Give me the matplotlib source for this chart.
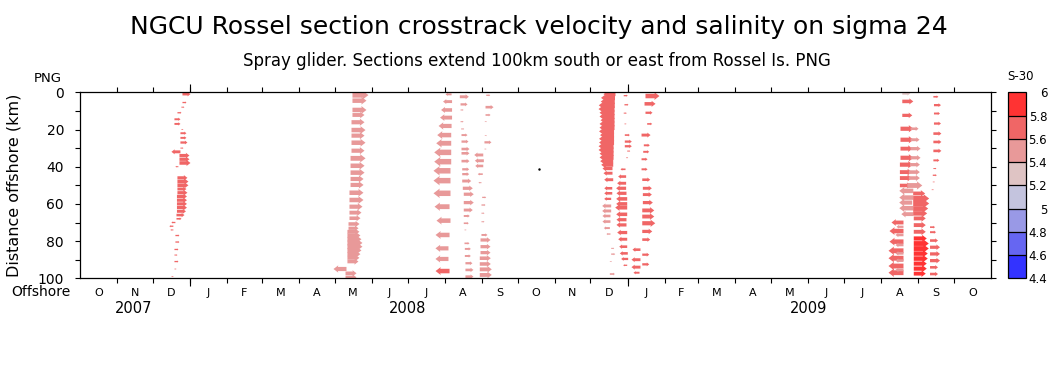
import numpy as np
import matplotlib
matplotlib.use('Agg')
import matplotlib.pyplot as plt
import matplotlib.dates as mdates
from matplotlib.colors import ListedColormap, BoundaryNorm
from matplotlib.cm import ScalarMappable

# =============================================================================
# Glider sections: distance offshore (km), days from section date,
# crosstrack velocity u (cm/s, + = to the right) and salinity S-30
# =============================================================================
dec07_date = '2007-12-24'
dec07_km = [1, 5.5, 8, 11, 14.5, 17, 20, 22, 24.5, 27, 30, 32, 34, 36, 38, 40, 46, 48, 50,
            52, 54, 56, 58, 60, 62, 64, 66, 68, 70, 72, 74, 77, 80.5, 84.5, 87.5, 91, 95, 99]
dec07_day = [1.7, 1.7, 0.8, -2.5, -5.0, -5.0, 0.8, 0, 0, 0, 0, 0, -0.8, -0.8, -0.8, -1.7,
             -2.5, -2.5, -2.5, -2.5, -2.5, -2.9, -2.9, -2.9, -2.9, -2.9, -3.3, -3.3, -4.2,
             -5.9, -5.9, -4.2, -4.2, -5.0, -5.0, -5.0, -5.0, -5.9]
dec07_u = [16, 8, 6, 8, 12, 12, 4, 12, 12, 14, 6, -18, 20, 20, 22, -6, 20, 22, 22, 18, 20,
           20, 20, 20, 20, 18, 16, 10, -8, -8, -6, 8, 8, 8, 6, 8, 4, -4]
dec07_s = [5.7] * 38

may08_date = '2008-05-14'
may08_km = [1.5, 4.5, 9.5, 12.2, 16.1, 20.3, 23.3, 27.1, 31.4, 35.5, 39.5, 43.2, 46.6, 49.8,
            54, 57.9, 61.5, 64.7, 67.7, 70.8, 73.1, 75, 77, 79, 81, 83, 85, 87, 89, 91, 95,
            97.3, 99.5]
may08_day = [1.9, 1.9, 1.9, 1.9, 1.1, 1.1, 1.1, 1.1, 1.1, 0.3, 0.3, 0.3, 0.3, 0.3, -0.6,
             -0.6, -0.6, -0.6, -0.6, -1.4, -1.4, -2.3, -2.3, -2.3, -2.3, -2.3, -2.3, -2.3,
             -2.3, -2.3, -3.1, -3.9, -3.9]
may08_u = [32, 28, 28, 24, 26, 28, 26, 28, 26, 30, 28, 28, 26, 26, 28, 28, 26, 24, 22, 22,
           20, 24, 26, 28, 30, 30, 28, 26, 24, 22, -26, 22, 22]
may08_s = [5.5] * 33

aug08a_date = '2008-08-05'
aug08a_km = [1.1, 5, 9.5, 13.6, 18.1, 23, 27.4, 32.3, 37.3, 42.2, 47.5, 54.3, 61.5, 69,
             76.7, 83.9, 89.6, 96.1]
aug08a_day = [1.8, 2.2, 2.2, 2.2, 1.8, 1.5, 1.5, 1.5, 1.5, 0.9, 0.9, 0.9, 0.1, 0.9, 0.1,
              -0.8, -0.8, 0.1]
aug08a_u = [-12, -18, -22, -24, -26, -28, -30, -34, -34, -34, -34, -34, -30, -28, -28, -26,
            -26, -28]
aug08a_s = [5.5] * 17 + [5.7]

aug08b_date = '2008-08-13'
aug08b_km = [2.4, 6.5, 9.5, 15.8, 19.7, 23, 26.5, 30.5, 32.8, 37, 41.4, 44, 47.7, 51.6,
             54.8, 59.3, 63.3, 66.5, 70.4, 74, 81.2, 84.2, 88, 91.9, 95.5, 99.1]
aug08b_day = [0.7, 1.3, 1.3, 1.3, 1.8, 2.1, 2.1, 2.1, 2.1, 2.1, 2.7, 2.7, 2.7, 3.2, 4.0,
              4.0, 4.0, 4.0, 4.0, 4.6, 4.6, 4.9, 4.9, 5.4, 5.4, 5.4]
aug08b_u = [18, 14, 6, 6, 6, 12, 14, 16, 16, 16, 14, 14, 18, 20, 20, 20, 18, 12, 10, 4, 10,
            12, 12, 14, 16, 16]
aug08b_s = [5.5] * 26

sep08_date = '2008-08-31'
sep08_km = [1.6, 8, 12.2, 15.8, 23.3, 26.9, 30.5, 33.7, 36.8, 39.6, 44, 48.6, 56.5, 60.6,
            65, 69.6, 76.7, 79.4, 83, 86.2, 89.2, 92.3, 95.2, 98.2]
sep08_day = [4.8, 4.2, 4.2, 3.6, 3.6, 3.3, 3.3, 2.3, 2.8, 2.3, 1.9, 0.8, 1.4, 0.8, 0.8,
             0.8, 0.8, 0, 0, 0, -0.6, -0.6, -0.6, -0.6]
sep08_u = [8, 16, 10, 4, 4, 14, 4, -18, -18, -16, -10, -6, 8, 8, 6, 6, 12, 20, 20, 20, 22,
           22, 24, 24]
sep08_s = [5.5] * 24

dec08a_date = '2008-12-19'
dec08a_km = [1, 3, 5, 7, 9, 11, 13, 15, 17, 19, 21, 23, 25, 27, 29, 31, 33, 35, 37, 39, 41,
             43.5, 47, 51.6, 54.3, 57.3, 61.1, 63.8, 66.5, 69.5, 73, 76.2, 83.9, 87, 91, 97.7]
dec08a_day = [2.9, 2.5, 2.3, 2.3, 2.1, 2.1, 2.1, 2.1, 2.1, 2.1, 1.7, 1.7, 1.7, 1.7, 1.3,
              1.3, 1.3, 1.3, 1.0, 1.0, 0.4, 0.4, 1.0, 0.2, 0.2, -0.7, -0.7, -0.7, -1.3,
              -1.3, -1.8, -1.3, -0.7, -0.7, -1.8, -1.8]
dec08a_u = [-24, -28, -28, -32, -32, -30, -30, -28, -30, -30, -30, -28, -30, -30, -30, -30,
            -28, -28, -26, -24, -20, -18, -18, -16, -16, -14, -18, -18, -16, -16, -12, -8,
            6, 8, 4, 10]
dec08a_s = [5.7] * 26 + [5.5] * 10

dec08b_date = '2008-12-29'
dec08b_km = [1.8, 6.7, 11.2, 17, 23, 26.5, 29, 31.6, 35.2, 41.4, 45.3, 48.9, 51.6, 54.3,
             57.3, 60, 62, 65.6, 68.5, 71.3, 75.4, 79, 83, 86.6, 89.6, 93]
dec08b_day = [-0.2, 0.4, -0.2, 0.4, 0.7, 0.7, 0.7, 2.7, 1.8, 1.3, 1.8, 1.8, 1.8, 2.1, 2.7,
              2.7, 2.7, 2.7, 2.1, 2.1, 2.7, 2.7, 2.7, 3.2, 3.5, 2.7]
dec08b_u = [8, 8, 6, 4, 10, 14, 14, 6, 4, -10, -16, -18, -20, -20, -22, -22, -24, -22, -20,
            -20, -20, -18, -16, -16, -14, -8]
dec08b_s = [5.7] * 26

jan09_date = '2009-01-11'
jan09_km = [2, 6.2, 11, 17, 23, 28.5, 32, 36, 41.4, 47, 51.6, 55, 59.3, 63.5, 66.8, 70.4,
            74.8, 79.2, 84.6, 87.3, 90, 92.5, 94, 97]
jan09_day = [5.0, 4.2, 5.0, 6.4, 1.7, 3.6, 3.1, 1.7, 1.7, 2.3, 2.8, 2.8, 2.8, 2.3, 2.3,
             2.3, 2.3, 2.3, 0.8, 2.3, 0.8, 2.3, 0.8, 0]
jan09_u = [28, 22, 14, 10, 18, 12, 12, 12, 12, 16, 18, 18, 20, 24, 24, 26, 20, 16, -16, 14,
           -18, 14, -18, -12]
jan09_s = [5.7] * 24

aug09a_date = '2009-08-15'
aug09a_km = [4.9, 12.4, 19.6, 25.5, 30.3, 35.2, 38.9, 42.9, 46.1, 50.1, 70, 74.6, 80.3,
             85.2, 89.2, 93.4, 97]
aug09a_day = [3.8, 3.8, 2.3, 2.3, 2.3, 2.3, 1.8, 1.8, 1.8, 1.8, 4.8, 4.8, 4.8, 4.8, 4.8,
              4.8, 4.8]
aug09a_u = [22, 20, 26, 26, 24, 26, 26, 24, 24, 22, -24, -28, -28, -30, -30, -30, -30]
aug09a_s = [5.7] * 17

aug09b_date = '2009-08-15'
aug09b_km = [0.6, 19.6, 25.5, 30.3, 35.2, 38.9, 42.9, 46.1, 50.1, 53, 56.6, 59.3, 62.3,
             65.5, 72.3, 76.7, 82.1, 86.6, 90.5, 95.5]
aug09b_day = [3.8, 10.7, 10.7, 10.7, 10.7, 10.2, 9.3, 9.3, 8.0, 13.0, 13.0, 12.1, 13.0,
              13.0, 4.8, 4.8, 4.8, 4.8, 4.8, 4.8]
aug09b_u = [16, 16, 18, 20, 20, 20, 22, 22, 30, -28, -28, -26, -28, -24, -14, -16, -16,
            -16, -16, -16]
aug09b_s = [5.3] + [5.5] * 19

aug09c_date = '2009-08-28'
aug09c_km = [54.4, 57.1, 59.8, 62.5, 65.1, 67.8, 71.4, 75, 78.6, 81.3, 84, 86.7, 89.4, 92.1,
             94.8, 97.5]
aug09c_day = [-0.1] * 5 + [0.4] * 11
aug09c_u = [24, 32, 32, 30, 28, 24, 24, 24, 26, 30, 30, 28, 28, 26, 26, 24]
aug09c_s = [5.7] * 8 + [5.9] * 8

sep09_date = '2009-09-10'
sep09_km = [2.4, 6.9, 11.4, 16.8, 22.2, 26.7, 31.5, 36.6, 41, 44.6, 48.2, 52.4, 72.5, 75.2,
            79.7, 83.3, 86.9, 90.5, 94.1, 97.7]
sep09_day = [3.8, 4.3, 4.3, 4.3, 3.8, 3.8, 3.8, 3.8, 3.8, 3.3, 3.3, 2.4, 1.0, 1.0, 1.0,
             1.0, 1.0, 1.0, 1.0, 1.0]
sep09_u = [10, 14, 12, 14, 16, 16, 16, 12, 6, 8, 4, 4, 10, 12, 16, 20, 20, 20, 16, 16]
sep09_s = [5.7] * 20

# single isolated sample
oct08_date = '2008-10-19'
oct08_km = 41.2

SECTIONS = [
    (dec07_date, dec07_km, dec07_day, dec07_u, dec07_s),
    (may08_date, may08_km, may08_day, may08_u, may08_s),
    (aug08a_date, aug08a_km, aug08a_day, aug08a_u, aug08a_s),
    (aug08b_date, aug08b_km, aug08b_day, aug08b_u, aug08b_s),
    (sep08_date, sep08_km, sep08_day, sep08_u, sep08_s),
    (dec08a_date, dec08a_km, dec08a_day, dec08a_u, dec08a_s),
    (dec08b_date, dec08b_km, dec08b_day, dec08b_u, dec08b_s),
    (jan09_date, jan09_km, jan09_day, jan09_u, jan09_s),
    (aug09a_date, aug09a_km, aug09a_day, aug09a_u, aug09a_s),
    (aug09b_date, aug09b_km, aug09b_day, aug09b_u, aug09b_s),
    (aug09c_date, aug09c_km, aug09c_day, aug09c_u, aug09c_s),
    (sep09_date, sep09_km, sep09_day, sep09_u, sep09_s),
]

S_LEVELS = [4.4, 4.6, 4.8, 5.0, 5.2, 5.4, 5.6, 5.8, 6.0]
S_COLORS = ['#3333ff', '#6666f2', '#9999e6', '#c4c4de', '#dfc4c4', '#e89999', '#f06666',
            '#ff3333']

MONTH_LETTERS = 'JFMAMJJASOND'

# =============================================================================
# Assemble
# =============================================================================
x, y, u, s = [], [], [], []
for date, km, day, uu, ss in SECTIONS:
    x.append(mdates.date2num(np.datetime64(date)) + np.asarray(day))
    y.append(km)
    u.append(uu)
    s.append(ss)
x = np.concatenate(x)
y = np.concatenate(y)
u = np.concatenate(u)
s = np.concatenate(s)

cmap = ListedColormap(S_COLORS)
norm = BoundaryNorm(S_LEVELS, cmap.N)

W, H = 1062, 371
fig = plt.figure(figsize=(W / 100, H / 100), dpi=100)
ax = fig.add_axes([80 / W, 1 - 278.3 / H, 911 / W, 186 / H])

ax.quiver(x, y, u, np.zeros_like(u), s, cmap=cmap, norm=norm,
          units='dots', width=5.5, headwidth=1.75, headlength=1.15,
          headaxislength=1.05, minshaft=2.7, minlength=0.2,
          scale_units='dots', scale=2, pivot='tail')
ax.plot(mdates.date2num(np.datetime64(oct08_date)), oct08_km, 'k.', markersize=1.5)

t0 = mdates.date2num(np.datetime64('2007-10-01'))
t1 = mdates.date2num(np.datetime64('2009-11-01'))
ax.set_xlim(t0, t1)
ax.set_ylim(100, 0)

months = np.arange('2007-10', '2009-12', dtype='datetime64[M]')
bounds = mdates.date2num(months.astype('datetime64[D]'))
mids = (bounds[:-1] + bounds[1:]) / 2
ax.set_xticks(bounds[1:-1])
ax.set_xticklabels([])
ax.set_xticks(mids, minor=True)
ax.set_xticklabels([MONTH_LETTERS[m.astype(int) % 12] for m in months[:-1]], minor=True)
ax.tick_params(axis='x', which='major', direction='out', length=3.5, width=0.8,
               top=True, bottom=True)
ax.tick_params(axis='x', which='minor', length=0, pad=7, labelsize=8)

# year boundary ticks and year labels
years = np.array(['2008-01-01', '2009-01-01'], dtype='datetime64[D]')
year_mid = [mdates.date2num(np.datetime64('2007-11-15')),
            mdates.date2num(np.datetime64('2008-07-01')),
            mdates.date2num(np.datetime64('2009-06-01'))]
for loc in ['bottom', 'top']:
    sec = ax.secondary_xaxis(loc)
    sec.set_xticks(mdates.date2num(years))
    sec.set_xticklabels([])
    sec.tick_params(direction='out', length=6, width=0.8)
    sec.spines[loc].set_visible(False)
    if loc == 'bottom':
        sec.set_xticks(year_mid, minor=True)
        sec.set_xticklabels(['2007', '2008', '2009'], minor=True)
        sec.tick_params(which='minor', length=0, pad=16, labelsize=10.5)

ax.set_yticks(range(0, 101, 20))
ax.set_yticks(range(10, 100, 20), minor=True)
ax.tick_params(axis='y', which='both', direction='out', length=3.5, width=0.8,
               left=True, right=True, labelsize=10, pad=8)
for sp in ax.spines.values():
    sp.set_linewidth(0.9)

ax.set_ylabel('Distance offshore (km)', fontsize=11.5)
ax.yaxis.set_label_coords((21.5 - 80) / 911, 0.5)

fig.text(48 / W, 1 - 78 / H, 'PNG', ha='center', va='center', fontsize=9.5)
fig.text(40.5 / W, 1 - 292.5 / H, 'Offshore', ha='center', va='center', fontsize=10)

fig.text(539 / W, 1 - 27 / H,
         'NGCU Rossel section crosstrack velocity and salinity on sigma 24',
         ha='center', va='center', fontsize=18)
fig.text(537 / W, 1 - 61 / H,
         'Spray glider. Sections extend 100km south or east from Rossel Is. PNG',
         ha='center', va='center', fontsize=12)

# colour key
cax = fig.add_axes([1008.3 / W, 1 - 278.3 / H, 17.4 / W, 186 / H])
cb = fig.colorbar(ScalarMappable(norm=norm, cmap=cmap), cax=cax, drawedges=True)
cb.set_ticks(S_LEVELS)
cb.set_ticklabels(['%g' % v for v in S_LEVELS])
cb.outline.set_linewidth(0.9)
cb.dividers.set_linewidth(0.9)
cax.tick_params(length=0, labelsize=8.5, pad=15.5)
for lab in cax.get_yticklabels():
    lab.set_horizontalalignment('right')
fig.text(1020 / W, 1 - 77 / H, 'S-30', ha='center', va='center', fontsize=8.5)

fig.savefig('out.png', dpi=100)
